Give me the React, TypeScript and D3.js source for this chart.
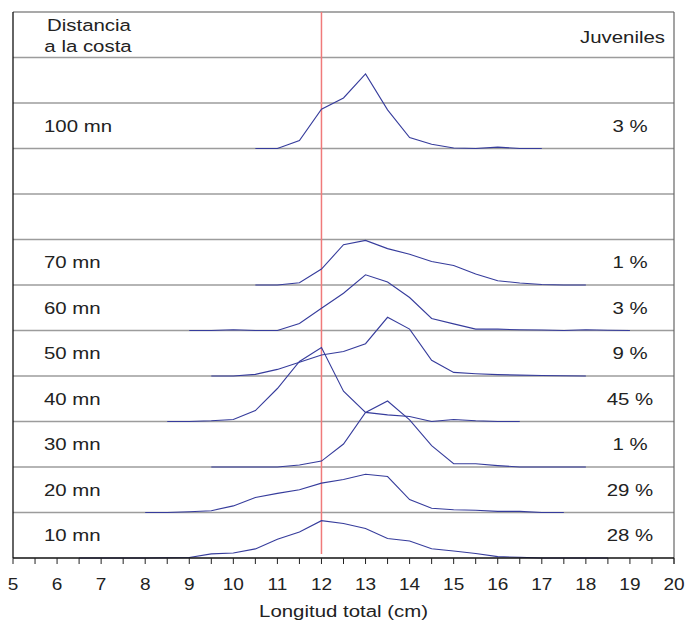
import { scaleLinear, line, range } from 'd3';

// distance to the coast (mn) for each profile, bottom to top
const distances = [10, 20, 30, 40, 50, 60, 70, 100];
const juveniles = ['28 %', '29 %', '1 %', '45 %', '9 %', '3 %', '1 %', '3 %'];
// first length class (cm) of each profile, classes every 0.5 cm
const starts = [6.5, 8, 9.5, 8.5, 9.5, 9, 10.5, 10.5];

// frequency (%) per length class
const freq10 = [0, 0, 0, 0, 0.1, 0.2, 1.8, 2.2, 4, 8.2, 11.4, 16.4, 15.2, 13, 8.6, 7.5, 4.1, 3.1, 2, 0.6, 0.3, 0, 0, 0, 0];
const freq20 = [0, 0, 0.3, 0.8, 2.9, 6.6, 8.4, 10, 12.9, 14.5, 16.8, 15.8, 5.7, 1.9, 1.2, 1, 0.5, 0.5, 0, 0];
const freq30 = [0, 0, 0, 0, 0.9, 2.6, 10.1, 24, 29, 20.7, 9.4, 1.5, 1.4, 0.6, 0, 0, 0, 0];
const freq40 = [0, 0, 0.3, 0.9, 4.8, 14.5, 26.4, 32.5, 13.3, 4, 2.9, 2.2, 0, 0.9, 0.3, 0, 0];
const freq50 = [0, 0, 0.7, 2.9, 6, 9.2, 10.8, 14.2, 25.8, 20.6, 6.9, 1.6, 1, 0.6, 0.4, 0.2, 0.1, 0];
const freq60 = [0, 0, 0.3, 0, 0, 3.1, 9.8, 16.4, 24.5, 21.3, 14.5, 5.3, 2.9, 0.6, 0.6, 0.3, 0.2, 0, 0.3, 0.1, 0];
const freq70 = [0, 0, 1, 7, 17.7, 19.6, 16, 13.5, 10.3, 8.6, 4.8, 1.9, 0.9, 0.2, 0, 0];
const freq100 = [0, 0, 3.5, 17.3, 22.2, 32.8, 17, 4.8, 1.9, 0.2, 0, 0.6, 0, 0];

const profiles = [freq10, freq20, freq30, freq40, freq50, freq60, freq70, freq100];

const xTicks = range(5, 21, 1);
const minorTicks = range(5, 20.01, 0.5);
const referenceLength = 12;

const bandSize = 20; // % per row
const bandCount = 12;

const font = '"Liberation Sans", Arial, sans-serif';

export default function App() {
  const width = 686;
  const height = 622;
  const left = 13;
  const right = 674;
  const top = 12;
  const bottom = 558;

  const x = scaleLinear().domain([5, 20]).range([left, right]);
  const y = scaleLinear().domain([0, bandCount * bandSize]).range([bottom, top]);

  const rowOf = (d: number) => d / 10 - 1;

  const lineGen = line<[number, number]>()
    .x((d) => x(d[0]))
    .y((d) => y(d[1]));

  const label = (txt: string, tx: number, ty: number, anchor: string, sx = 1.2, size = 17) => (
    <text
      key={txt + tx + ty}
      transform={`translate(${tx},${ty}) scale(${sx},1)`}
      textAnchor={anchor}
      fontSize={size}
      fontFamily={font}
      fill="#222"
    >
      {txt}
    </text>
  );

  return (
    <svg
      width={width}
      height={height}
      style={{ position: 'absolute', left: 0, top: 0, background: '#fff' }}
    >
      {/* row lines */}
      {range(1, bandCount).map((k) => (
        <line key={k} x1={left} x2={right} y1={y(k * bandSize)} y2={y(k * bandSize)} stroke="#9c9c9c" strokeWidth={1.3} />
      ))}
      <line x1={left} x2={right} y1={top} y2={top} stroke="#555" strokeWidth={1.2} />
      <line x1={right} x2={right} y1={top} y2={bottom + 6} stroke="#666" strokeWidth={1.2} />
      <line x1={left} x2={left} y1={top} y2={bottom} stroke="#111" strokeWidth={1.3} />

      {/* reference length */}
      <line
        x1={x(referenceLength)}
        x2={x(referenceLength)}
        y1={top}
        y2={bottom - 4}
        stroke="#f07a7a"
        strokeWidth={1.5}
      />

      {/* profiles */}
      {profiles.map((vals, i) => {
        const base = rowOf(distances[i]) * bandSize;
        const pts = vals.map((v, j) => [starts[i] + j * 0.5, base + v] as [number, number]);
        return <path key={i} d={lineGen(pts) || ''} fill="none" stroke="#363c9c" strokeWidth={1.1} />;
      })}

      {/* x axis */}
      <line x1={left} x2={right} y1={bottom} y2={bottom} stroke="#111" strokeWidth={1.3} />
      {minorTicks.map((t) => (
        <line key={t} x1={x(t)} x2={x(t)} y1={bottom} y2={bottom + 6} stroke="#222" strokeWidth={1} />
      ))}
      {xTicks.map((t) => label(String(t), x(t), bottom + 32, 'middle', 1.12))}
      {label('Longitud total (cm)', (left + right) / 2, 617, 'middle')}

      {/* headers */}
      {label('Distancia', 89, 31, 'middle')}
      {label('a la costa', 88, 52, 'middle')}
      {label('Juveniles', 665, 43, 'end')}

      {/* row labels */}
      {distances.map((d, i) => {
        const yb = y(rowOf(d) * bandSize) - 17;
        return (
          <g key={d}>
            {label(`${d} mn`, 44, yb, 'start')}
            {label(juveniles[i], 630, yb, 'middle')}
          </g>
        );
      })}
    </svg>
  );
}
